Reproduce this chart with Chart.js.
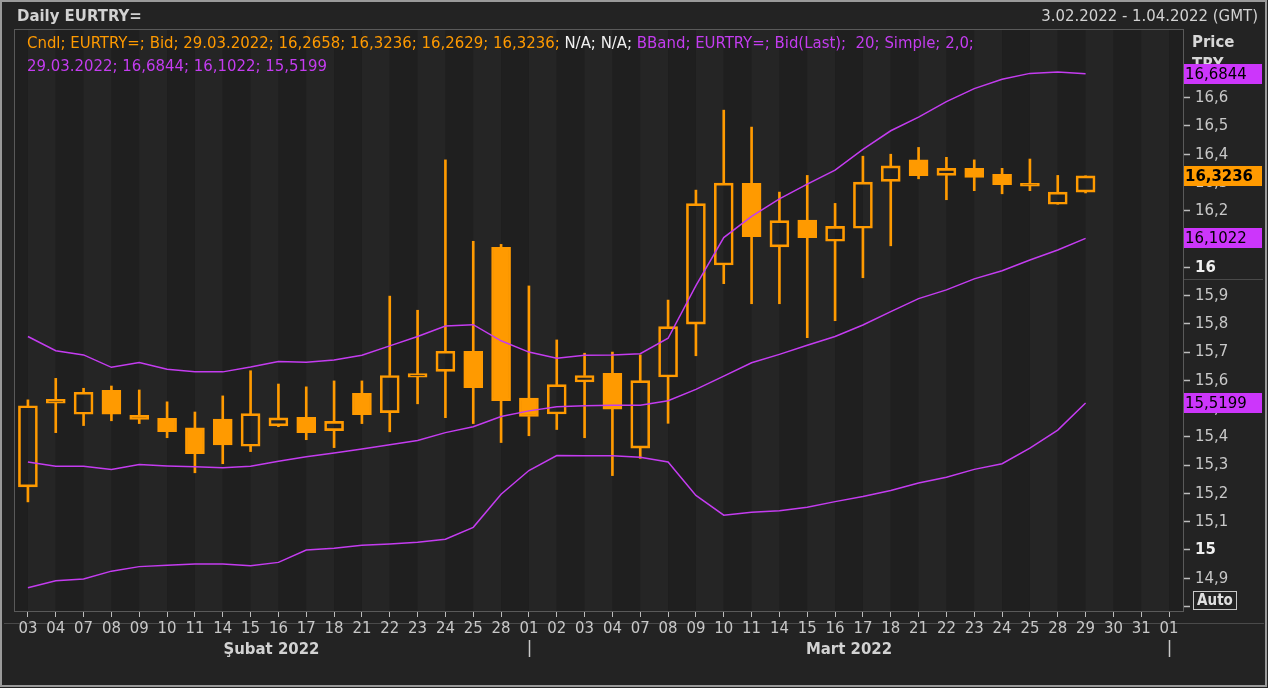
<!DOCTYPE html>
<html lang="tr">
<head>
<meta charset="UTF-8">
<title>Daily EURTRY=</title>
<script src="https://cdn.jsdelivr.net/npm/chart.js"></script>
<style>
    html, body { margin: 0; padding: 0; background: #232323; }
    #wrap { position: relative; width: 1268px; height: 688px; }
</style>
</head>
<body>
<div id="wrap"><canvas id="grafico" width="1268" height="688"></canvas></div>

<script>
// trading days shown on the x axis (30, 31 Mar and 01 Apr have no candle yet)
var days = ['2022-02-03','2022-02-04','2022-02-07','2022-02-08','2022-02-09','2022-02-10','2022-02-11',
    '2022-02-14','2022-02-15','2022-02-16','2022-02-17','2022-02-18','2022-02-21','2022-02-22','2022-02-23',
    '2022-02-24','2022-02-25','2022-02-28','2022-03-01','2022-03-02','2022-03-03','2022-03-04','2022-03-07',
    '2022-03-08','2022-03-09','2022-03-10','2022-03-11','2022-03-14','2022-03-15','2022-03-16','2022-03-17',
    '2022-03-18','2022-03-21','2022-03-22','2022-03-23','2022-03-24','2022-03-25','2022-03-28','2022-03-29',
    '2022-03-30','2022-03-31','2022-04-01'];

// candles (Bid)
var opens  = [15.223,15.519,15.480,15.565,15.476,15.466,15.432,15.463,15.367,15.439,15.469,15.422,15.554,15.486,15.611,
    15.632,15.703,16.071,15.537,15.481,15.594,15.625,15.360,15.612,15.799,16.008,16.297,16.072,16.167,16.092,
    16.138,16.304,16.380,16.325,16.350,16.329,16.297,16.223,16.2658];
var highs  = [15.531,15.607,15.572,15.580,15.566,15.524,15.488,15.545,15.634,15.587,15.577,15.598,15.598,15.898,15.848,
    16.380,16.092,16.081,15.934,15.743,15.696,15.700,15.690,15.884,16.273,16.556,16.496,16.266,16.325,16.226,
    16.393,16.400,16.424,16.389,16.380,16.350,16.383,16.325,16.3236];
var lows   = [15.170,15.415,15.440,15.457,15.447,15.397,15.273,15.305,15.348,15.436,15.390,15.362,15.447,15.418,15.517,
    15.468,15.447,15.380,15.404,15.426,15.397,15.263,15.324,15.448,15.687,15.942,15.871,15.871,15.751,15.811,
    15.963,16.076,16.313,16.239,16.271,16.260,16.271,16.223,16.2629];
var closes = [15.510,15.533,15.558,15.480,15.462,15.418,15.341,15.372,15.482,15.467,15.415,15.455,15.479,15.617,15.624,
    15.703,15.574,15.528,15.472,15.585,15.617,15.498,15.599,15.790,16.225,16.298,16.108,16.165,16.105,16.145,
    16.301,16.359,16.324,16.350,16.318,16.292,16.287,16.266,16.3236];

// Bollinger band 20, simple, 2.0
var bbUpper  = [15.755,15.705,15.690,15.646,15.663,15.639,15.630,15.630,15.647,15.667,15.664,15.672,15.689,15.722,15.755,
    15.792,15.797,15.740,15.700,15.678,15.689,15.690,15.694,15.749,15.935,16.105,16.180,16.242,16.294,16.344,
    16.417,16.483,16.531,16.586,16.632,16.665,16.686,16.691,16.6844];
var bbMiddle = [15.311,15.296,15.296,15.285,15.302,15.297,15.294,15.291,15.296,15.314,15.330,15.343,15.357,15.372,15.387,
    15.415,15.436,15.472,15.492,15.507,15.510,15.512,15.512,15.528,15.568,15.615,15.662,15.692,15.724,15.755,
    15.796,15.843,15.889,15.920,15.959,15.988,16.026,16.061,16.1022];
var bbLower  = [14.866,14.891,14.897,14.925,14.941,14.946,14.950,14.950,14.944,14.956,15.000,15.006,15.017,15.021,15.027,
    15.038,15.080,15.197,15.281,15.334,15.333,15.333,15.328,15.311,15.193,15.123,15.133,15.139,15.151,15.171,
    15.189,15.210,15.237,15.257,15.285,15.305,15.360,15.424,15.5199];

// price axis
var priceMin = 14.784;
var priceMax = 16.843;
var priceStep = 0.1;

var months = ['Şubat 2022', 'Mart 2022'];
var monthStarts = ['2022-03-01', '2022-04-01'];

var ORANGE = '#ff9a00';
var PURPLE = '#c43cf0';
var PURPLE_BOX = '#cc36fb';
var FONT = "'DejaVu Sans Condensed', 'DejaVu Sans', sans-serif";
var FS = 16.6;

function fmt(v, d) {
    return v.toFixed(d).replace('.', ',');
}

// wick pieces above and below the body, so hollow bodies stay empty inside
var upperWick = [], lowerWick = [], bodies = [], bodyFill = [];
for (var i = 0; i < opens.length; i++) {
    var bodyHi = Math.max(opens[i], closes[i]);
    var bodyLo = Math.min(opens[i], closes[i]);
    upperWick.push([bodyHi, highs[i]]);
    lowerWick.push([lows[i], bodyLo]);
    bodies.push([opens[i], closes[i]]);
    bodyFill.push(closes[i] >= opens[i] ? 'rgba(0,0,0,0)' : ORANGE);
}

var last = opens.length - 1;

var decor = {
    id: 'decor',
    beforeDraw: function (chart) {
        var c = chart.ctx, a = chart.chartArea, x = chart.scales.x;
        c.save();
        c.fillStyle = '#232323';
        c.fillRect(0, 0, chart.width, chart.height);

        // alternating column shading, boundaries at the day centres
        var prev = a.left;
        for (var i = 0; i <= days.length; i++) {
            var nx = i < days.length ? x.getPixelForValue(i) : a.right;
            c.fillStyle = (i % 2 == 0) ? '#1f1f1f' : '#252525';
            c.fillRect(prev, a.top, nx - prev, a.bottom - a.top);
            prev = nx;
        }

        // line under the x tick marks
        c.strokeStyle = '#4a4a4a';
        c.lineWidth = 1;
        c.beginPath();
        c.moveTo(4, 623.5); c.lineTo(1264, 623.5);
        c.moveTo(a.right, 279.5); c.lineTo(1263, 279.5);
        c.stroke();
        c.restore();
    },
    afterDraw: function (chart) {
        var c = chart.ctx, a = chart.chartArea, x = chart.scales.x, y = chart.scales.y;
        c.save();

        // plot frame and window border
        c.strokeStyle = '#5a5a5a';
        c.lineWidth = 1;
        c.strokeRect(a.left + 0.5, a.top + 0.5, a.right - a.left, a.bottom - a.top);
        c.strokeStyle = '#9a9a9a';
        c.lineWidth = 2;
        c.strokeRect(1, 1, 1265, 685);

        // header
        c.textBaseline = 'alphabetic';
        c.fillStyle = '#d2d2d2';
        c.font = 'bold ' + FS + 'px ' + FONT;
        c.textAlign = 'left';
        c.fillText('Daily EURTRY=', 17, 21);
        c.font = FS + 'px ' + FONT;
        c.textAlign = 'right';
        c.fillText('3.02.2022 - 1.04.2022 (GMT)', 1258, 21);

        // legend lines inside the plot
        c.textAlign = 'left';
        var parts = [
            ['Cndl; EURTRY=; Bid; 29.03.2022; ' + fmt(opens[last], 4) + '; ' + fmt(highs[last], 4) + '; ' +
                fmt(lows[last], 4) + '; ' + fmt(closes[last], 4) + '; ', ORANGE],
            ['N/A; N/A; ', '#f0f0f0'],
            ['BBand; EURTRY=; Bid(Last);  20; Simple; 2,0;', PURPLE]
        ];
        var px = 27;
        parts.forEach(function (p) {
            c.fillStyle = p[1];
            c.fillText(p[0], px, 48);
            px += c.measureText(p[0]).width;
        });
        c.fillStyle = PURPLE;
        c.fillText('29.03.2022; ' + fmt(bbUpper[last], 4) + '; ' + fmt(bbMiddle[last], 4) + '; ' + fmt(bbLower[last], 4), 27, 71);

        // axis title
        c.fillStyle = '#d8d8d8';
        c.font = 'bold ' + FS + 'px ' + FONT;
        c.fillText('Price', 1192, 47);
        c.fillText('TRY', 1192, 69);

        // last value boxes on the price axis
        function box(v, bg, bold) {
            var yy = Math.round(y.getPixelForValue(v));
            c.fillStyle = bg;
            c.fillRect(a.right + 1, yy - 10, 78, 20);
            c.fillStyle = '#000';
            c.font = (bold ? 'bold ' : '') + FS + 'px ' + FONT;
            c.textBaseline = 'middle';
            c.fillText(fmt(v, 4), a.right + 2, yy + 1);
        }
        box(bbUpper[last], PURPLE_BOX, false);
        box(closes[last], ORANGE, true);
        box(bbMiddle[last], PURPLE_BOX, false);
        box(bbLower[last], PURPLE_BOX, false);

        // Auto button
        c.fillStyle = '#232323';
        c.fillRect(1193, 591, 44, 19);
        c.strokeStyle = '#c8c8c8';
        c.lineWidth = 1;
        c.strokeRect(1193.5, 591.5, 43, 18);
        c.fillStyle = '#e0e0e0';
        c.font = 'bold 15px ' + FONT;
        c.textAlign = 'center';
        c.fillText('Auto', 1215, 601);

        // month names and separators
        var sep = monthStarts.map(function (d) { return x.getPixelForValue(days.indexOf(d)); });
        c.strokeStyle = '#c8c8c8';
        c.lineWidth = 1.5;
        c.beginPath();
        sep.forEach(function (sx) {
            c.moveTo(Math.round(sx) + 0.5, 640);
            c.lineTo(Math.round(sx) + 0.5, 657);
        });
        c.stroke();
        c.textBaseline = 'alphabetic';
        c.font = 'bold ' + FS + 'px ' + FONT;
        c.fillStyle = '#d2d2d2';
        c.fillText(months[0], (a.left + sep[0]) / 2, 654);
        c.fillText(months[1], (sep[0] + sep[1]) / 2, 654);

        c.restore();
    }
};

var config = {
    type: 'bar',
    data: {
        labels: days,
        datasets: [
            {
                type: 'line', label: 'upper', data: bbUpper, borderColor: PURPLE, borderWidth: 1.5,
                pointRadius: 0, tension: 0, order: 1
            },
            {
                type: 'line', label: 'middle', data: bbMiddle, borderColor: PURPLE, borderWidth: 1.5,
                pointRadius: 0, tension: 0, order: 1
            },
            {
                type: 'line', label: 'lower', data: bbLower, borderColor: PURPLE, borderWidth: 1.5,
                pointRadius: 0, tension: 0, order: 1
            },
            {
                label: 'upper wick', data: upperWick, backgroundColor: ORANGE, barThickness: 2,
                grouped: false, order: 3
            },
            {
                label: 'lower wick', data: lowerWick, backgroundColor: ORANGE, barThickness: 2,
                grouped: false, order: 3
            },
            {
                label: 'body', data: bodies, backgroundColor: bodyFill, borderColor: ORANGE, borderWidth: 2,
                borderSkipped: false, barThickness: 19, grouped: false, order: 2
            }
        ]
    },
    options: {
        responsive: false,
        animation: false,
        devicePixelRatio: 1,
        layout: { padding: { left: 14, top: 29, right: 0, bottom: 0 } },
        plugins: { legend: { display: false }, tooltip: { enabled: false } },
        scales: {
            x: {
                type: 'category',
                offset: true,
                border: { display: false },
                grid: { offset: false, drawOnChartArea: false, drawTicks: true, tickLength: 6, color: '#bdbdbd', tickWidth: 1 },
                ticks: {
                    autoSkip: false, maxRotation: 0, padding: 2, color: '#c8c8c8',
                    font: { family: FONT, size: FS },
                    callback: function (v, i) { return days[i].slice(8); }
                },
                afterFit: function (s) { s.height = 77; }
            },
            y: {
                position: 'right',
                min: priceMin,
                max: priceMax,
                border: { display: false },
                grid: {
                    drawOnChartArea: false, drawTicks: true, tickLength: 7, tickWidth: 1.5,
                    color: function (ctx) { return (ctx.tick && ctx.tick.value > 16.75) ? 'rgba(0,0,0,0)' : '#bdbdbd'; }
                },
                ticks: {
                    stepSize: priceStep,
                    includeBounds: false,
                    padding: 5,
                    color: function (ctx) {
                        var v = Math.round(ctx.tick.value * 10) / 10;
                        return (v % 1 === 0) ? '#f0f0f0' : '#c8c8c8';
                    },
                    font: function (ctx) {
                        var v = ctx.tick ? Math.round(ctx.tick.value * 10) / 10 : 0;
                        return { family: FONT, size: FS, weight: (v % 1 === 0) ? 'bold' : 'normal' };
                    },
                    callback: function (v) {
                        v = Math.round(v * 10) / 10;
                        if (v > 16.65 || v < 14.85) return '';
                        return (v % 1 === 0) ? String(v) : fmt(v, 1);
                    }
                },
                afterFit: function (s) { s.width = 85; }
            }
        }
    },
    plugins: [decor]
};

var grafico = new Chart(document.getElementById('grafico'), config);
</script>
</body>
</html>
